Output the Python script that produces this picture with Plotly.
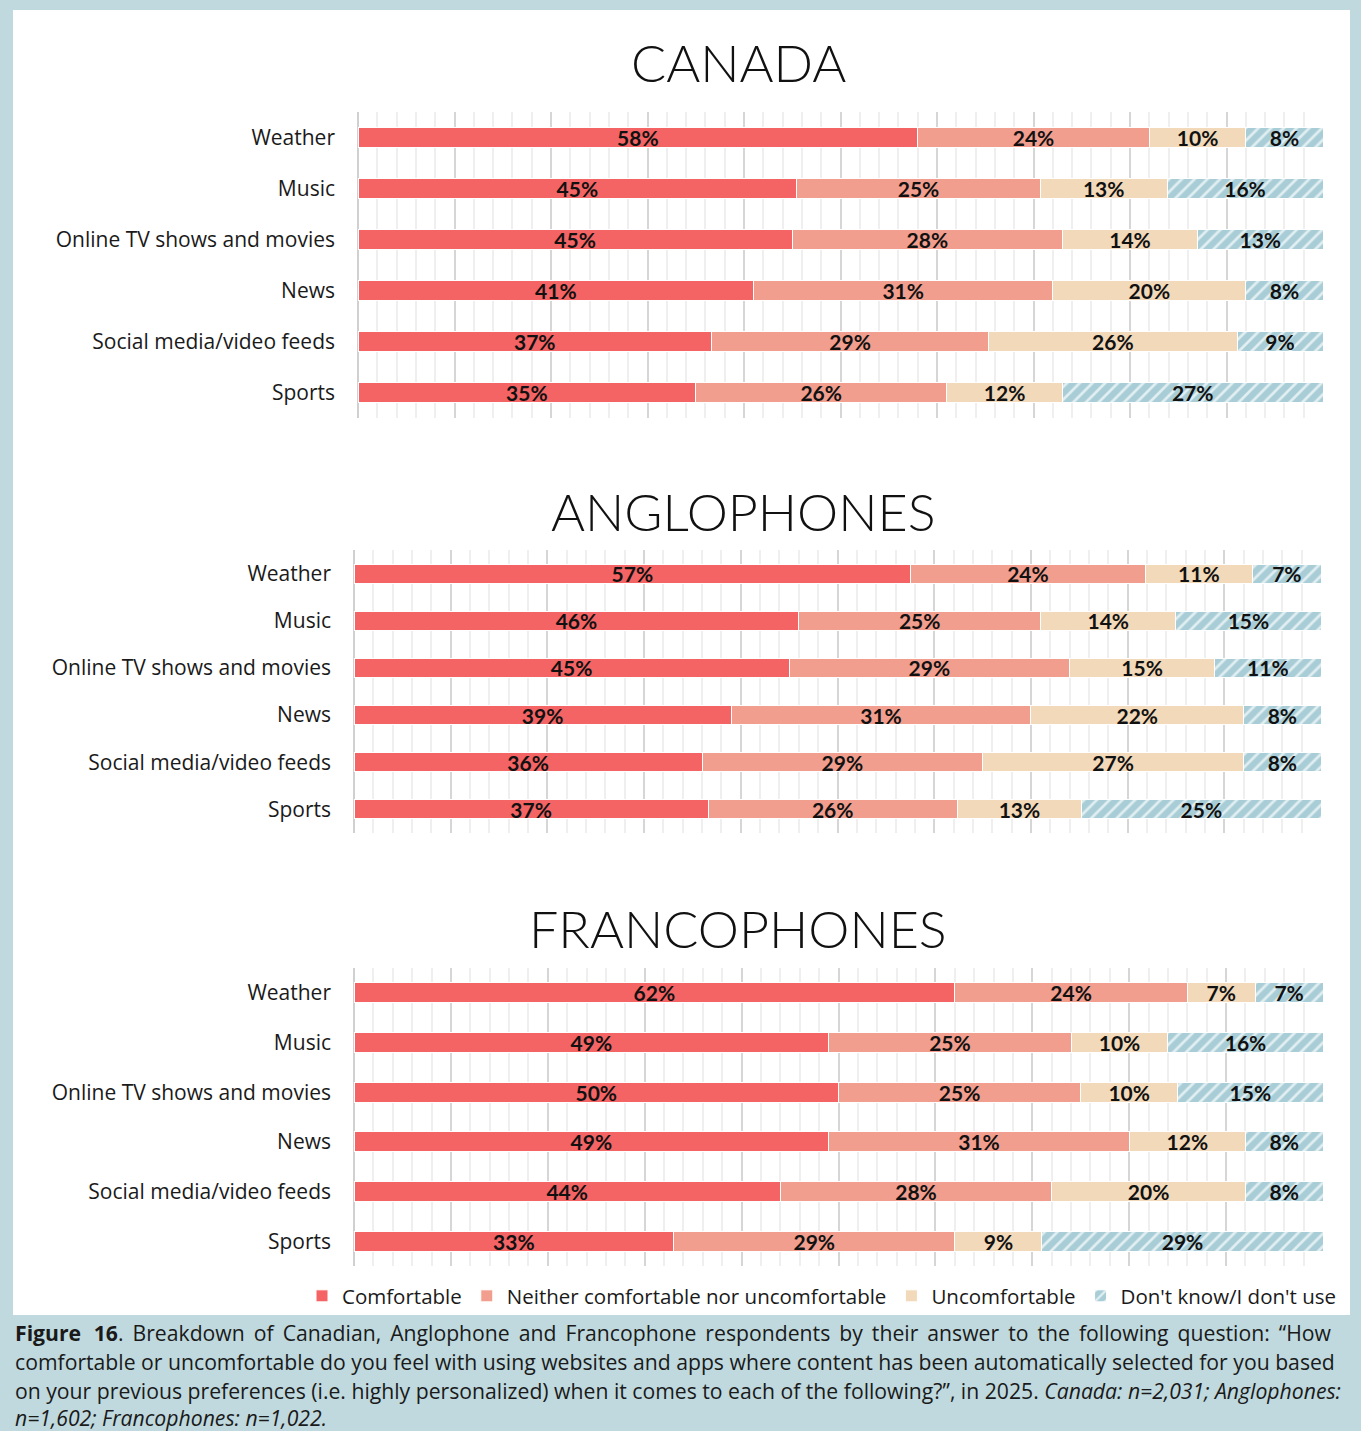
import plotly.graph_objects as go

W, H = 1361, 1431

categories = ["Weather", "Music", "Online TV shows and movies", "News",
              "Social media/video feeds", "Sports"]
series_names = ["Comfortable", "Neither comfortable nor uncomfortable",
                "Uncomfortable", "Don't know/I don't use"]

canada_comfortable = [58, 45, 45, 41, 37, 35]
canada_neither = [24, 25, 28, 31, 29, 26]
canada_uncomfortable = [10, 13, 14, 20, 26, 12]
canada_dontknow = [8, 16, 13, 8, 9, 27]

anglo_comfortable = [57, 46, 45, 39, 36, 37]
anglo_neither = [24, 25, 29, 31, 29, 26]
anglo_uncomfortable = [11, 14, 15, 22, 27, 13]
anglo_dontknow = [7, 15, 11, 8, 8, 25]

franco_comfortable = [62, 49, 50, 49, 44, 33]
franco_neither = [24, 25, 25, 31, 28, 29]
franco_uncomfortable = [7, 10, 10, 12, 20, 9]
franco_dontknow = [7, 16, 15, 8, 8, 29]

panel_titles = ["CANADA", "ANGLOPHONES", "FRANCOPHONES"]

BORDER = "#BFD9DE"
colors = ["#F56464", "#F29E8E", "#F2D9B9", "#A8CDD6"]
HATCH_FG = "#E2EFF2"

# layout geometry in pixels (x0, x1, y_top, y_bottom)
panels = [
    (358, 1323, 112, 418),
    (354, 1321, 550, 833),
    (354, 1323, 968, 1266),
]
title_pos = [(739, 62), (743, 511), (738, 928)]

data_sets = [
    [canada_comfortable, canada_neither, canada_uncomfortable, canada_dontknow],
    [anglo_comfortable, anglo_neither, anglo_uncomfortable, anglo_dontknow],
    [franco_comfortable, franco_neither, franco_uncomfortable, franco_dontknow],
]

def px(x):
    return x / W

def py(y):
    return 1 - y / H

fig = go.Figure()

for p, series in enumerate(data_sets):
    ax = "" if p == 0 else str(p + 1)
    for s, vals in enumerate(series):
        marker = dict(color=colors[s], line=dict(color="white", width=1))
        if s == 3:
            marker["pattern"] = dict(shape="/", bgcolor=colors[3], fgcolor=HATCH_FG,
                                     size=9, solidity=0.3, fillmode="replace")
        fig.add_trace(go.Bar(
            x=vals, y=categories, orientation="h",
            name=series_names[s], legendgroup=series_names[s],
            showlegend=(p == 0),
            marker=marker,
            text=[f"{v}%" for v in vals],
            texttemplate="%{text}",
            textposition="inside", insidetextanchor="middle", textangle=0,
            constraintext="none",
            textfont=dict(family="Lato", size=21, color="#111111", weight="bold"),
            xaxis="x" + ax, yaxis="y" + ax,
            hoverinfo="skip",
        ))

layout = dict(
    width=W, height=H,
    margin=dict(l=0, r=0, t=0, b=0),
    paper_bgcolor=BORDER,
    plot_bgcolor="white",
    barmode="stack", barnorm="percent", bargap=0.6,
    font=dict(family="Open Sans", color="#1a1a1a"),
    showlegend=True,
    legend=dict(orientation="h", x=px(1342), xanchor="right", y=py(1296), yanchor="middle",
                font=dict(family="Open Sans", size=20.5, color="#1a1a1a"),
                bgcolor="rgba(0,0,0,0)", traceorder="normal", itemwidth=30,
                tracegroupgap=0),
    shapes=[dict(type="rect", xref="paper", yref="paper", x0=px(13), x1=px(1350),
                 y0=py(1315), y1=py(10), fillcolor="white", line=dict(width=0),
                 layer="below")],
    annotations=[],
)

for p, (x0, x1, yt, yb) in enumerate(panels):
    ax = "" if p == 0 else str(p + 1)
    layout["xaxis" + ax] = dict(
        domain=[px(x0), px(x1)], range=[0, 100], anchor="y" + ax,
        showticklabels=False, ticks="", showgrid=True, gridcolor="#D6D6D6", gridwidth=2,
        tick0=0, dtick=10,
        minor=dict(dtick=2, showgrid=True, gridcolor="#EFEFEF", gridwidth=1.5),
        zeroline=True, zerolinecolor="#D0D0D0", zerolinewidth=2, fixedrange=True,
    )
    layout["yaxis" + ax] = dict(
        domain=[py(yb), py(yt)], anchor="x" + ax, type="category",
        autorange="reversed", showgrid=False, ticks="", ticklabelstandoff=22,
        tickfont=dict(family="Open Sans", size=21, color="#1a1a1a"),
        fixedrange=True,
    )
    tx, ty = title_pos[p]
    layout["annotations"].append(dict(
        text=panel_titles[p], x=px(tx), y=py(ty), xref="paper", yref="paper",
        xanchor="center", yanchor="middle", showarrow=False,
        font=dict(family="Lato", size=52, color="#111111", weight=300),
    ))

TS = "\u2009"
caption_lines = [
    ("<b>Figure" + TS + " 16</b>. Breakdown of Canadian, Anglophone and Francophone respondents by their answer to the following question: \u201cHow").replace(" ", " " + TS),
    "comfortable or uncomfortable do you feel with using websites and apps where content has been automatically selected for you based",
    "on your previous preferences (i.e. highly personalized) when it comes to each of the following?\u201d, in 2025. <i>Canada: n=2,031; Anglophones:</i>",
    "<i>n=1,602; Francophones: n=1,022.</i>",
]
caption_y = [1332, 1361, 1390, 1417]
for line, cy in zip(caption_lines, caption_y):
    layout["annotations"].append(dict(
        text=line, x=px(13), y=py(cy), xref="paper", yref="paper",
        xanchor="left", yanchor="middle", showarrow=False,
        font=dict(family="Open Sans", size=21.2, color="#1a1a1a"),
    ))

fig.update_layout(**layout)
fig.write_html("out.html", config={"displayModeBar": False},
               post_script=["document.body.style.margin='0';document.body.style.padding='0';"])
